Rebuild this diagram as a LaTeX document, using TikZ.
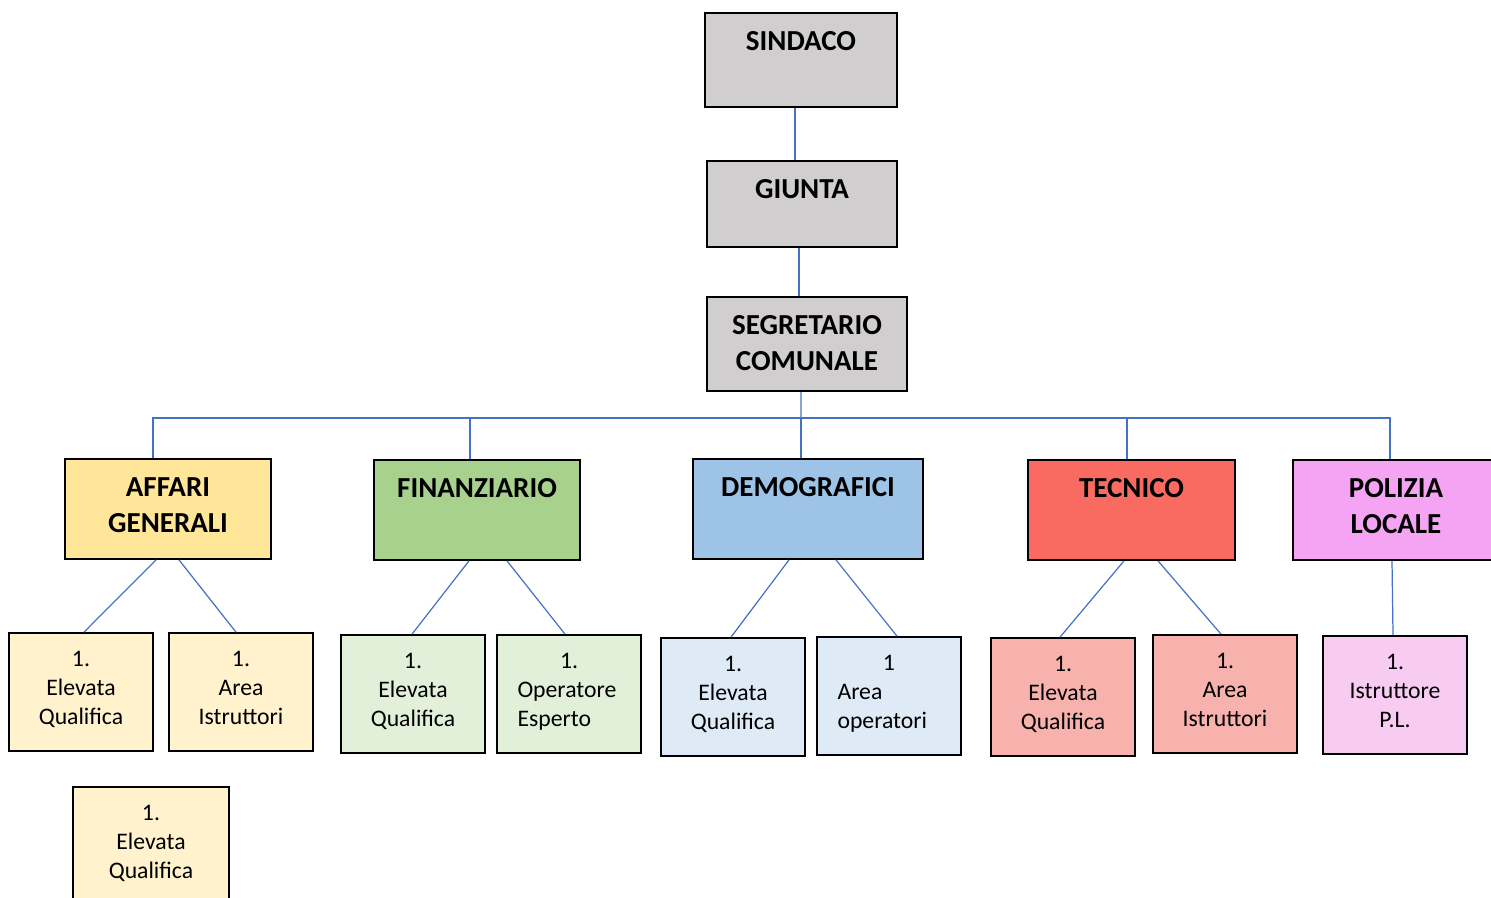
\documentclass[tikz,border=0pt]{standalone}
\usepackage{fontspec}
\setmainfont{Carlito}
\usetikzlibrary{calc}

\definecolor{grigio}{HTML}{D0CECE}
\definecolor{giallo}{HTML}{FFE699}
\definecolor{giallochiaro}{HTML}{FFF2CC}
\definecolor{verde}{HTML}{A9D18E}
\definecolor{verdechiaro}{HTML}{E2F0D9}
\definecolor{azzurro}{HTML}{9DC3E6}
\definecolor{azzurrochiaro}{HTML}{DEEBF7}
\definecolor{rosso}{HTML}{F96B60}
\definecolor{rossochiaro}{HTML}{F8B2AE}
\definecolor{viola}{HTML}{F5A3F3}
\definecolor{violachiaro}{HTML}{F8CCF2}
\definecolor{linea}{HTML}{4472C4}

\newcommand{\rigasx}[1]{\makebox[2.06cm][l]{#1}}

\begin{document}
\begin{tikzpicture}[
    x=0.02cm, y=-0.02cm,
    boxw/.store in=\boxw, boxh/.store in=\boxh,
    cella/.style={inner sep=0pt,
      execute at begin node={\begin{minipage}[c][\boxh][t]{\boxw}\centering\vspace*{10.6pt}},
      execute at end node={\end{minipage}}},
    capo/.style={draw, line width=1pt, fill=grigio, cella,
      font=\bfseries\fontsize{16.5}{20.4}\selectfont},
    area/.style={draw, line width=1pt, cella, boxw=4.12cm, boxh=2cm,
      font=\bfseries\fontsize{16.5}{20.4}\selectfont},
    ruolo/.style={draw, line width=1pt, cella, boxw=2.88cm, boxh=2.36cm,
      font=\fontsize{13.5}{16.5}\selectfont},
    link/.style={draw=linea, line width=0.7pt}
  ]
  \useasboundingbox (0,0) rectangle (1491,897);

  % vertici
  \node[capo, boxw=3.84cm, boxh=1.88cm] (sindaco) at (801,60) {SINDACO};
  \node[capo, boxw=3.8cm, boxh=1.72cm] (giunta) at (802,204) {GIUNTA};
  \node[capo, boxw=4cm, boxh=1.88cm] (segretario) at (807,344) {SEGRETARIO\\COMUNALE};

  % aree
  \node[area, fill=giallo] (affari) at (168,509) {AFFARI\\GENERALI};
  \node[area, fill=verde] (finanziario) at (477,510) {FINANZIARIO};
  \node[area, fill=azzurro, boxw=4.6cm] (demografici) at (808,509) {DEMOGRAFICI};
  \node[area, fill=rosso, boxw=4.14cm] (tecnico) at (1131.5,510) {TECNICO};
  \node[area, fill=viola] (polizia) at (1396,510) {POLIZIA\\LOCALE};

  % ruoli
  \node[ruolo, fill=giallochiaro] (ag1) at (81,692) {1.\\Elevata\\Qualifica};
  \node[ruolo, fill=giallochiaro] (ag2) at (241,692) {1.\\Area\\Istruttori};
  \node[ruolo, fill=giallochiaro, boxw=3.12cm] (ag3) at (151,846) {1.\\Elevata\\Qualifica};
  \node[ruolo, fill=verdechiaro] (fin1) at (413,694) {1.\\Elevata\\Qualifica};
  \node[ruolo, fill=verdechiaro] (fin2) at (569,694)
    {1.\\\rigasx{Operatore}\\\rigasx{Esperto}};
  \node[ruolo, fill=azzurrochiaro] (dem1) at (733,697) {1.\\Elevata\\Qualifica};
  \node[ruolo, fill=azzurrochiaro] (dem2) at (889,696)
    {1\\\rigasx{Area}\\\rigasx{operatori}};
  \node[ruolo, fill=rossochiaro] (tec1) at (1063,697) {1.\\Elevata\\Qualifica};
  \node[ruolo, fill=rossochiaro] (tec2) at (1225,694) {1.\\Area\\Istruttori};
  \node[ruolo, fill=violachiaro] (pol1) at (1395,695) {1.\\Istruttore\\P.L.};

  % collegamenti
  \draw[link] ([xshift=-0.12cm]sindaco.south) -- ([xshift=-0.12cm]sindaco.south |- giunta.north);
  \draw[link] ([xshift=-0.06cm]giunta.south) -- ([xshift=-0.06cm]giunta.south |- segretario.north);
  \coordinate (snodo) at (801,418);
  \draw[link] ([xshift=-0.12cm]segretario.south) -- (snodo);
  \draw[link] ([xshift=-0.3cm]affari.north) |- ([xshift=-0.12cm]polizia.north |- snodo)
    -- ([xshift=-0.12cm]polizia.north);
  \foreach \n/\dx in {finanziario/-0.14cm, demografici/-0.14cm, tecnico/-0.09cm}
    \draw[link] ([xshift=\dx]\n.north) -- ([xshift=\dx]\n.north |- snodo);
  \foreach \a/\da/\b/\db in {affari/-12/ag1/3, affari/11/ag2/-5,
      finanziario/-8/fin1/-1, finanziario/30/fin2/-4,
      demografici/-19/dem1/-2, demografici/28/dem2/8,
      tecnico/-7.5/tec1/-3, tecnico/26.5/tec2/-4, polizia/-4/pol1/-2}
    \draw[link] ($(\a.south)+(\da,0)$) -- ($(\b.north)+(\db,0)$);
\end{tikzpicture}
\end{document}
